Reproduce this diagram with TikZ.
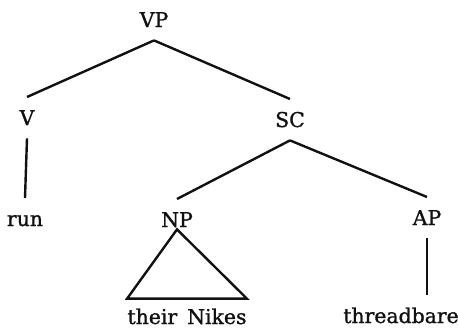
\documentclass[tikz,border=0pt]{standalone}
\usepackage{fontspec}
\setmainfont{DejaVu Serif}
\newfontfamily\treefont{DejaVu Serif}[FakeBold=1.2]
\definecolor{trink}{HTML}{111111}

\begin{document}
\begin{tikzpicture}[x=0.5pt,y=-0.5pt,
  cat/.style={anchor=base,inner xsep=0pt,inner ysep=6.5pt,text height=7.3pt,text depth=0pt,
    text=trink,font=\treefont\fontsize{10.2}{12}\selectfont},
  branch/.style={draw=trink,line width=1.2pt}]
  \useasboundingbox (0,0) rectangle (458,332);
  % labels, placed on their baselines
  \node[cat] (vp) at (154,27) {VP};
  \node[cat] (v) at (27,125) {V};
  \node[cat] (sc) at (290,127) {SC};
  \node[cat] (run) at (25,226) {run};
  \node[cat] (np) at (177,227) {NP};
  \node[cat] (ap) at (427,225) {AP};
  \node[cat] (nikes) at (187,324) {their\hskip5pt Nikes};
  \node[cat] (bare) at (401,323) {threadbare};
  % branches
  \foreach \a/\b in {vp/v,vp/sc,v/run,sc/np,sc/ap}
    \draw[branch] (\a.south) -- (\b.north);
  \draw[branch] (ap.south) -- (ap.south |- bare.north);
  \draw[branch,line join=miter] ([yshift=5.5pt]np.south) -- ([yshift=-1.3pt]nikes.north west)
    -- ([yshift=-1.3pt]nikes.north east) -- cycle;
\end{tikzpicture}
\end{document}
